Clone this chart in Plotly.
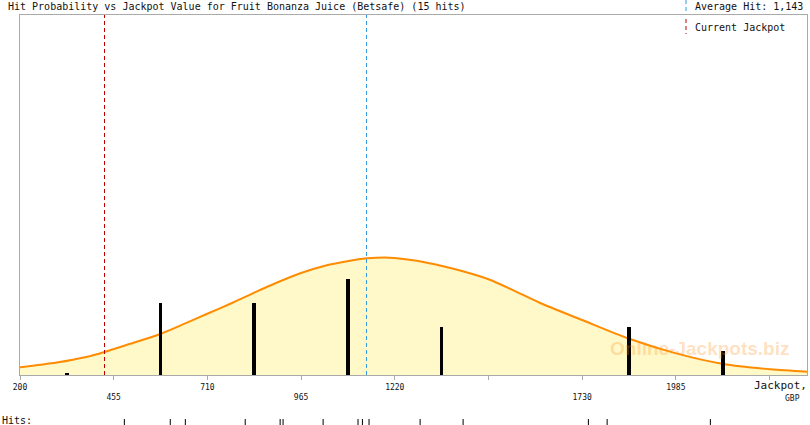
import plotly.graph_objects as go

# ---- data ----
bin_centers = [327.5, 582.5, 837.5, 1092.5, 1347.5, 1602.5, 1857.5, 2112.5]
bin_counts = [0.05, 3, 3, 4, 2, 0, 2, 1]

curve_x = [200, 300, 380, 430, 500, 582, 650, 708, 780, 838, 878, 963, 1030, 1094, 1145,
           1192, 1219, 1280, 1349, 1410, 1475, 1540, 1613, 1730, 1858, 1986, 2114, 2242, 2342]
curve_y = [0.32, 0.52, 0.75, 0.96, 1.30, 1.71, 2.15, 2.54, 3.02, 3.43, 3.71, 4.24, 4.55,
           4.75, 4.86, 4.90, 4.88, 4.76, 4.54, 4.30, 3.99, 3.55, 3.02, 2.29, 1.51, 0.90,
           0.46, 0.24, 0.14]

hits = [484, 609, 650, 813, 908, 916, 1025, 1120, 1132, 1150, 1289, 1406, 1747, 1798, 2079]

average_hit = 1143
current_jackpot = 430

tick_vals = [200, 455, 710, 965, 1220, 1475, 1730, 1985, 2240]
tick_text = ["200", "<br>455", "710", "<br>965", "1220", "", "<br>1730", "1985", ""]

title_text = "Hit Probability vs Jackpot Value for Fruit Bonanza Juice (Betsafe) (15 hits)"

# ---- layout geometry ----
W, H = 810, 425
ML, MR, MT, MB = 20, 3, 15, 0
PW, PH = W - ML - MR, H - MT - MB
main_bottom_px = 375


def px(xp):
    return (xp - ML) / PW


def py(yp):
    return (H - MB - yp) / PH


mono = "DejaVu Sans Mono"

fig = go.Figure()

fig.add_trace(go.Scatter(
    x=curve_x, y=curve_y, mode="lines",
    line=dict(color="#ff8c00", width=2, shape="spline", smoothing=0.8),
    fill="tozeroy", fillcolor="#fff8c8", hoverinfo="skip", xaxis="x", yaxis="y"))

fig.add_trace(go.Bar(
    x=bin_centers, y=bin_counts, width=10, marker=dict(color="black", line=dict(width=0)),
    xaxis="x", yaxis="y3"))

hx, hy = [], []
for h in hits:
    hx += [h, h, None]
    hy += [0, 1, None]
fig.add_trace(go.Scatter(x=hx, y=hy, mode="lines", line=dict(color="black", width=1),
                         xaxis="x", yaxis="y2", hoverinfo="skip"))

shapes = [
    dict(type="line", xref="x", yref="y", x0=average_hit, x1=average_hit, y0=0, y1=15,
         line=dict(color="#3399dd", width=1, dash="4px,3px")),
    dict(type="line", xref="x", yref="y", x0=current_jackpot, x1=current_jackpot, y0=0, y1=15,
         line=dict(color="#bb0000", width=1, dash="4px,3px")),
    # legend markers
    dict(type="line", xref="paper", yref="paper", x0=px(686), x1=px(686), y0=py(0), y1=py(14),
         line=dict(color="#3399dd", width=1, dash="4px,3px")),
    dict(type="line", xref="paper", yref="paper", x0=px(686), x1=px(686), y0=py(19), y1=py(34),
         line=dict(color="#bb0000", width=1, dash="4px,3px")),
]

annotations = [
    dict(text=title_text, xref="paper", yref="paper", x=px(6), y=py(7), xanchor="left",
         yanchor="middle", showarrow=False, font=dict(family=mono, size=10, color="#111")),
    dict(text="Average Hit: 1,143", xref="paper", yref="paper", x=px(693), y=py(7),
         xanchor="left", yanchor="middle", showarrow=False,
         font=dict(family=mono, size=10, color="#111")),
    dict(text="Current Jackpot", xref="paper", yref="paper", x=px(693), y=py(27),
         xanchor="left", yanchor="middle", showarrow=False,
         font=dict(family=mono, size=10, color="#111")),
    dict(text="Jackpot,", xref="paper", yref="paper", x=px(809), y=py(385),
         xanchor="right", yanchor="middle", showarrow=False,
         font=dict(family=mono, size=11, color="#111")),
    dict(text="GBP", xref="paper", yref="paper", x=px(792), y=py(398),
         xanchor="center", yanchor="middle", showarrow=False,
         font=dict(family=mono, size=8, color="#111")),
    dict(text="Hits:", xref="paper", yref="paper", x=px(0), y=py(420),
         xanchor="left", yanchor="middle", showarrow=False,
         font=dict(family=mono, size=10, color="#111")),
    dict(text="<b>Online-Jackpots.biz</b>", xref="paper", yref="paper", x=px(699), y=py(348),
         xanchor="center", yanchor="middle", showarrow=False,
         font=dict(family="Liberation Sans", size=19, color="rgba(255,150,40,0.30)")),
]

main_dom0 = (H - MB - main_bottom_px) / PH

fig.update_layout(
    width=W, height=H, margin=dict(l=ML, r=MR, t=MT, b=MB, autoexpand=False),
    paper_bgcolor="white", plot_bgcolor="rgba(0,0,0,0)", showlegend=False,
    bargap=0,
    xaxis=dict(range=[200, 2342], tickvals=tick_vals, ticktext=tick_text,
               ticks="outside", ticklen=4, tickcolor="#aaaaaa", showline=True,
               linecolor="#aaaaaa", linewidth=1, mirror=True, showgrid=False, zeroline=False,
               anchor="y", automargin=False,
               tickfont=dict(family=mono, size=8, color="#111")),
    yaxis=dict(range=[0, 15], domain=[main_dom0, 1], showticklabels=False, ticks="",
               showline=True, linecolor="#aaaaaa", linewidth=1, mirror=True,
               showgrid=False, zeroline=False, automargin=False),
    yaxis3=dict(range=[0, 15], overlaying="y", showticklabels=False, ticks="",
                showline=False, showgrid=False, zeroline=False),
    yaxis2=dict(range=[0, 1], domain=[0, 6 / PH], showticklabels=False, ticks="",
                showline=False, showgrid=False, zeroline=False, anchor="x"),
    shapes=shapes, annotations=annotations,
)

fig.write_html(
    "out.html",
    config={"displayModeBar": False},
    post_script="document.body.style.margin='0';document.body.style.padding='0';"
                "document.body.style.overflow='hidden';")
